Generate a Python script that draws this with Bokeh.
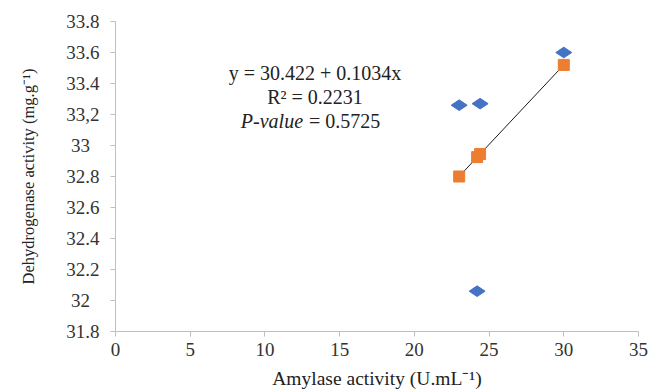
from bokeh.plotting import figure
from bokeh.models import FixedTicker, Label, ColumnDataSource, Range1d
from bokeh.embed import file_html
from bokeh.resources import INLINE
import math

# observed values (blue diamonds)
amylase = [23.0, 24.4, 30.0, 24.2]
dehydrogenase = [33.26, 33.27, 33.60, 32.06]
# fitted values (orange squares)
fitted = [32.80, 32.945, 33.52, 32.925]

x_ticks = [0, 5, 10, 15, 20, 25, 30, 35]
y_ticks = [31.8, 32.0, 32.2, 32.4, 32.6, 32.8, 33.0, 33.2, 33.4, 33.6, 33.8]
y_tick_labels = ["31.8", "32\u2007", "32.2", "32.4", "32.6", "32.8", "33\u2007", "33,2", "33.4", "33.6", "33.8"]

eq_lines = ["y = 30.422 + 0.1034x", "R\u00b2 = 0.2231"]
p_label = "P-value"
p_text = "= 0.5725"

FONT = "Liberation Serif"

p = figure(width=662, height=391, output_backend="svg", toolbar_location=None,
           x_range=Range1d(0, 35), y_range=Range1d(31.8, 33.8))
p.min_border_left = 115
p.min_border_right = 24
p.min_border_top = 21
p.min_border_bottom = 58
p.outline_line_color = None
p.xgrid.grid_line_color = None
p.ygrid.grid_line_color = None

for ax in (p.xaxis[0], p.yaxis[0]):
    ax.axis_line_color = "#BFBFBF"
    ax.major_tick_line_color = "#BFBFBF"
    ax.major_tick_out = 5
    ax.major_tick_in = 0
    ax.minor_tick_line_color = None
    ax.major_label_text_font = FONT
    ax.major_label_text_font_size = "19px"
    ax.major_label_text_color = "#333333"
    ax.axis_label_text_font = FONT
    ax.axis_label_text_font_style = "normal"
    ax.axis_label_text_color = "#222222"

p.xaxis.ticker = FixedTicker(ticks=x_ticks)
p.yaxis.ticker = FixedTicker(ticks=y_ticks)
p.yaxis.major_label_overrides = {t: l for t, l in zip(y_ticks, y_tick_labels)}
p.xaxis.axis_label = "Amylase activity (U.mL\u207b\u00b9)"
p.yaxis.axis_label = "Dehydrogenase activity (mg.g\u207b\u00b9)"
p.xaxis.axis_label_text_font_size = "19.5px"
p.yaxis.axis_label_text_font_size = "16.5px"
p.yaxis.major_label_standoff = 11
p.xaxis.major_label_standoff = 6
p.yaxis.axis_label_standoff = 25
p.xaxis.axis_label_standoff = 9

src = ColumnDataSource(dict(x=amylase, y=dehydrogenase, f=fitted))

# regression line through the fitted values
order = sorted(range(len(amylase)), key=lambda i: amylase[i])
p.line([amylase[i] for i in order], [fitted[i] for i in order], line_color="#1a1a1a", line_width=1)

p.scatter("x", "f", source=src, marker="square", size=11, fill_color="#ED7D31",
          line_color="#ED7D31")
p.scatter("x", "y", source=src, marker="diamond", size=16, angle=math.pi / 2,
          fill_color="#4472C4", line_color="#4472C4")

for txt, yy in zip(eq_lines, [33.466, 33.31]):
    p.add_layout(Label(x=13.35, y=yy, text=txt, text_font=FONT, text_font_size="20px",
                       text_align="center", text_baseline="middle", text_color="#222222"))
p.add_layout(Label(x=12.55, y=33.16, text=p_label, text_font=FONT, text_font_size="20px",
                   text_font_style="italic", text_align="right", text_baseline="middle",
                   text_color="#222222"))
p.add_layout(Label(x=12.95, y=33.16, text=p_text, text_font=FONT, text_font_size="20px",
                   text_align="left", text_baseline="middle", text_color="#222222"))

open("out.html", "w").write(file_html(p, INLINE))
